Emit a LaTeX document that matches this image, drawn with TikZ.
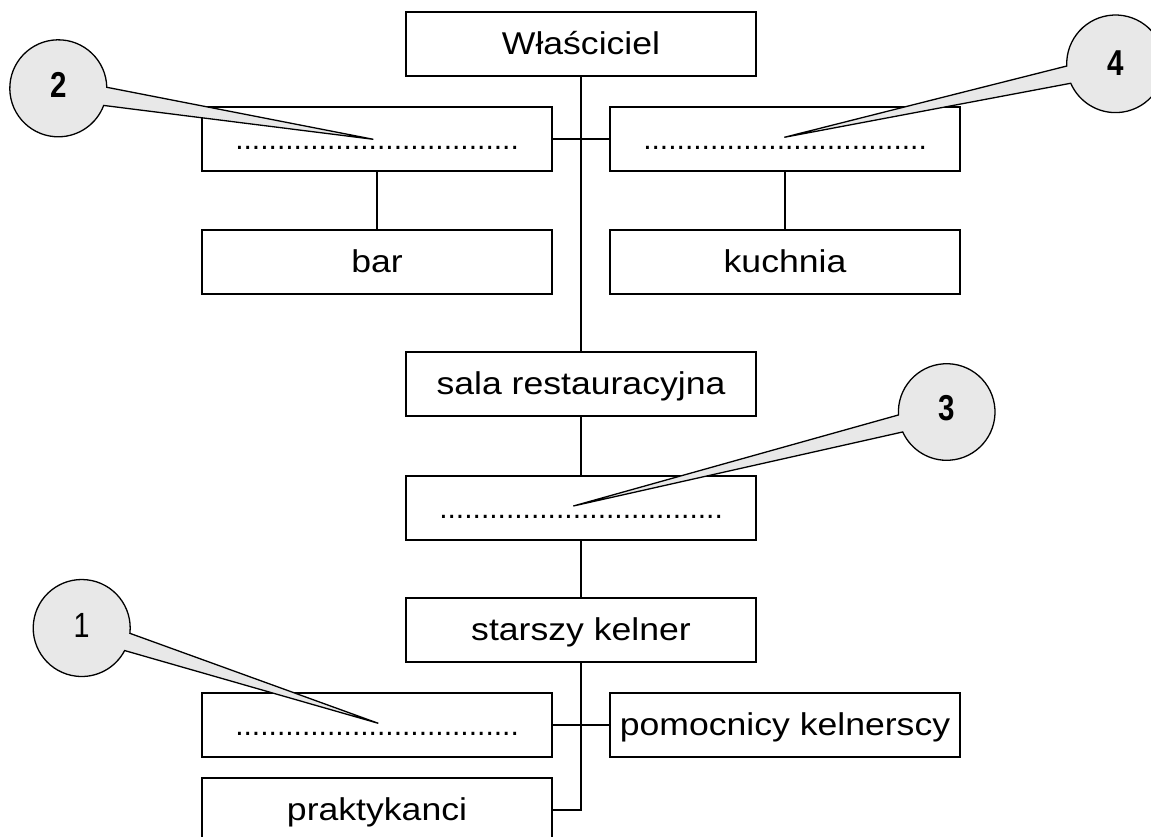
\documentclass[tikz,border=0pt]{standalone}
\usepackage{fontspec}
\setmainfont{Liberation Sans}[FakeStretch=1.13]
\newfontfamily\dotfont{Liberation Sans}
\newfontfamily\numfont{Liberation Sans}[FakeStretch=0.82]
\newcommand{\blankline}{{\dotfont\fontsize{30}{36}\selectfont ..................................}}
\begin{document}
\begin{tikzpicture}[x=1pt,y=1pt,yscale=-1,
  orgbox/.style={draw, line width=2pt, fill=white, minimum width=350pt, minimum height=64pt,
    inner sep=0pt, text height=24pt, text depth=3pt, font=\fontsize{31.5}{37}\selectfont},
  link/.style={line width=2pt},
  callout/.style={draw=black, line width=1.3pt, fill=black!9, line join=miter},
  num/.style={font=\numfont\bfseries\fontsize{36}{40}\selectfont, inner sep=0pt}]
\useasboundingbox (0,0) rectangle (1151,836);
\clip (0,0) rectangle (1151,836);

% boxes
\node[orgbox] (W)     at (581,44)    {Właściciel};
\node[orgbox] (b2)    at (377,139)   {\blankline};
\node[orgbox] (b4)    at (785,139)   {\blankline};
\node[orgbox] (bar)   at (377,262)   {bar};
\node[orgbox] (kuch)  at (785,262)   {kuchnia};
\node[orgbox] (sala)  at (581,384)   {sala restauracyjna};
\node[orgbox] (b3)    at (581,507.5) {\blankline};
\node[orgbox] (sk)    at (581,629.6) {starszy kelner};
\node[orgbox] (b1)    at (377,724.8) {\blankline};
\node[orgbox] (pom)   at (785,724.8) {pomocnicy kelnerscy};
\node[orgbox] (prakt) at (377,809.5) {praktykanci};

% connectors
\draw[link] (W.south) -- (sala.north);
\draw[link] (b2.east) -- (b4.west);
\draw[link] (b2.south) -- (bar.north);
\draw[link] (b4.south) -- (kuch.north);
\draw[link] (sala.south) -- (b3.north);
\draw[link] (b3.south) -- (sk.north);
\draw[link] (sk.south) |- (prakt.east);
\draw[link] (b1.east) -- (pom.west);

% callouts
\coordinate (c2) at (58.3,88.3);   \coordinate (t2) at (373.3,139.3);
\coordinate (c4) at (1115.5,63.8); \coordinate (t4) at (784.3,137.3);
\coordinate (c3) at (946.7,412);   \coordinate (t3) at (573.3,506);
\coordinate (c1) at (81.7,628);    \coordinate (t1) at (378.3,723.3);

\draw[callout] (c2) ++(-1.2:48.5) arc[start angle=-1.2, end angle=-339.3, radius=48.5] -- (t2) -- cycle;
\draw[callout] (c4) ++(177.4:48.8) arc[start angle=177.4, end angle=516.5, radius=48.8] -- (t4) -- cycle;
\draw[callout] (c3) ++(176.5:48.3) arc[start angle=176.5, end angle=515.6, radius=48.3] -- (t3) -- cycle;
\draw[callout] (c1) ++(6.3:48.5) arc[start angle=6.3, end angle=-332.3, radius=48.5] -- (t1) -- cycle;

\node[num] (n2) at (58.3,84.5) {2};
\node[num] (n4) at (1115.5,63) {4};
\node[num] (n3) at (946.7,408.3) {3};
\node[num, font=\numfont\fontsize{35}{40}\selectfont] (n1) at (81.7,625) {1};
\end{tikzpicture}
\end{document}
